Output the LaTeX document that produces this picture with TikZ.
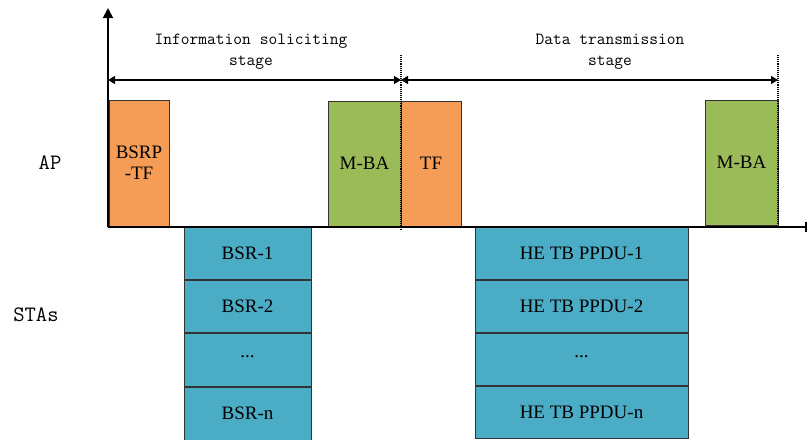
\documentclass[tikz,border=0pt]{standalone}
\usepackage{fontspec}
\setmainfont{Liberation Serif}
\usetikzlibrary{arrows.meta}
\definecolor{orangebox}{HTML}{F59D56}
\definecolor{greenbox}{HTML}{9BBB59}
\definecolor{tealbox}{HTML}{4BACC6}
\definecolor{edgecol}{HTML}{333333}
\begin{document}
\begin{tikzpicture}[x=1pt,y=-1pt,
  frame/.style={draw=edgecol,line width=1pt,inner sep=0pt,font=\fontsize{19}{21}\selectfont},
  apbox/.style={frame,fill=orangebox},
  babox/.style={frame,fill=greenbox},
  stabox/.style={frame,fill=tealbox},
  lab/.style={font=\ttfamily\fontsize{17}{21}\selectfont,align=center},
  side/.style={font=\ttfamily\fontsize{22}{24}\selectfont},
  dots/.style={densely dotted,line width=1.1pt},
  span/.style={line width=1.2pt,{Triangle[length=7pt,width=8pt]}-{Triangle[length=7pt,width=8pt]}}
]
\useasboundingbox (0,0) rectangle (808,439);
% AP boxes
\node[apbox,minimum width=60pt,minimum height=126pt,align=center] (bsrp) at (139,163) {BSRP\\-TF};
\node[babox,minimum width=73pt,minimum height=125pt] (mba1) at (364.5,163.5) {M-BA};
\node[apbox,minimum width=60pt,minimum height=125pt] (tf) at (431,163.5) {TF};
\node[babox,minimum width=73pt,minimum height=125pt] (mba2) at (741.5,162.5) {M-BA};
% STA boxes
\node[stabox,minimum width=127pt,minimum height=52pt] (bsr1) at (247.5,253) {BSR-1};
\node[stabox,minimum width=127pt,minimum height=52pt,anchor=north] (bsr2) at (bsr1.south) {BSR-2};
\node[stabox,minimum width=127pt,minimum height=53pt,anchor=north] (bsr3) at (bsr2.south) {\raisebox{0.3em}{...}};
\node[stabox,minimum width=127pt,minimum height=53pt,anchor=north] (bsrn) at (bsr3.south) {BSR-n};
\node[stabox,minimum width=213pt,minimum height=52pt] (he1) at (581.5,253) {HE TB PPDU-1};
\node[stabox,minimum width=213pt,minimum height=52pt,anchor=north] (he2) at (he1.south) {HE TB PPDU-2};
\node[stabox,minimum width=213pt,minimum height=52pt,anchor=north] (he3) at (he2.south) {\raisebox{0.3em}{...}};
\node[stabox,minimum width=213pt,minimum height=52pt,anchor=north] (hen) at (he3.south) {HE TB PPDU-n};
% axes
\coordinate (o) at (108,227);
\coordinate (ytop) at (108,8);
\coordinate (xend) at (807,227);
\draw[line width=1.8pt,-{Triangle[length=10pt,width=10pt]}] (o) -- (ytop);
\draw[line width=1.8pt,-{Bar[width=10pt]}] (o) -- (xend);
% dotted separators
\coordinate (d1t) at (401,55);
\coordinate (d1b) at (401,230);
\coordinate (d2t) at (778,55);
\coordinate (d2b) at (778,225);
\draw[dots] (d1t) -- (d1b);
\draw[dots] (d2t) -- (d2b);
% spans
\coordinate (s0) at (108,80);
\coordinate (s1) at (401,80);
\coordinate (s2) at (778,80);
\draw[span] (s0) -- (s1);
\draw[span] (s1) -- (s2);
\node[lab] (l1) at (251,52) {Information soliciting\\stage};
\node[lab] (l2) at (610,52) {Data transmission\\stage};
% side labels
\node[side] (ap) at (50,163) {AP};
\node[side] (sta) at (36,315) {STAs};
\end{tikzpicture}
\end{document}
